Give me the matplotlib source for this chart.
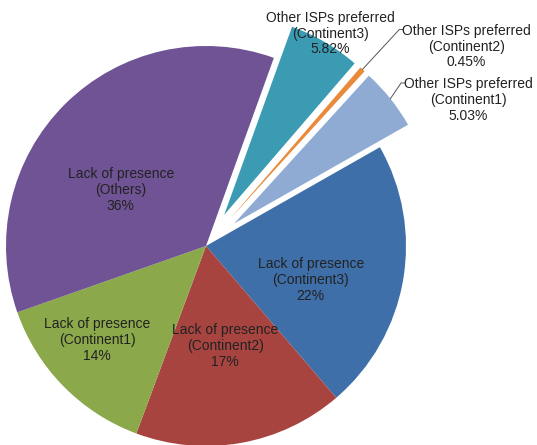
import matplotlib
matplotlib.use('Agg')
import matplotlib.pyplot as plt
import numpy as np

#### DATA ##########

labels = ['Lack of presence\n(Continent3)', 'Lack of presence\n(Continent2)',
          'Lack of presence\n(Continent1)', 'Lack of presence\n(Others)',
          'Other ISPs preferred\n(Continent3)', 'Other ISPs preferred\n(Continent2)',
          'Other ISPs preferred\n(Continent1)']
values = [22, 17, 14, 36, 5.82, 0.45, 5.03]
pct_text = ['22%', '17%', '14%', '36%', '5.82%', '0.45%', '5.03%']

colors = ['#3F6FA8', '#A84440', '#8BA94B', '#6F5394', '#3B9BB3', '#E88A3A', '#8FABD4']
explode = [0, 0, 0, 0, 0.18, 0.18, 0.18]

# label placement: (radius from pie centre, angle offset from wedge middle)
lab_pos = [(0.55, -8.0), (0.51, 0.8), (0.72, -3.6), (0.51, 12.0),
           (1.23, 0.0), (1.64, -11.0), (1.50, -9.5)]
outside = [False, False, False, False, False, True, True]

##### PLOT ######

plt.rcParams['font.family'] = ['Liberation Sans', 'DejaVu Sans']

fig = plt.figure(figsize=(5.37, 4.45), dpi=100)
ax = fig.add_axes([0, 0, 1, 1])

wedges, _ = ax.pie(values, colors=colors, explode=explode, startangle=29.6,
                   counterclock=False, radius=1.0,
                   wedgeprops=dict(linewidth=0))

for i, w in enumerate(wedges):
    mid = (w.theta1 + w.theta2) / 2.0
    r, off = lab_pos[i]
    a = np.deg2rad(mid + off)
    tx, ty = r * np.cos(a), r * np.sin(a)
    ax.text(tx, ty, labels[i] + '\n' + pct_text[i], ha='center', va='center',
            fontsize=10, color='#222222', linespacing=1.17, zorder=5)
    if outside[i]:
        cx, cy = w.center
        m = np.deg2rad(mid)
        x0, y0 = cx + w.r * np.cos(m), cy + w.r * np.sin(m)
        # elbow at the level of the first text line, left of the text
        x1, y1 = tx - 0.315, ty + 0.085
        ax.plot([x0, x1 - 0.02, x1], [y0, y1, y1], color='#555555', lw=0.7, zorder=4)

ax.set_xlim(-1.03, 1.655)
ax.set_ylim(-0.995, 1.23)
ax.set_aspect('equal')
ax.axis('off')

plt.savefig('out.png', dpi=100)
